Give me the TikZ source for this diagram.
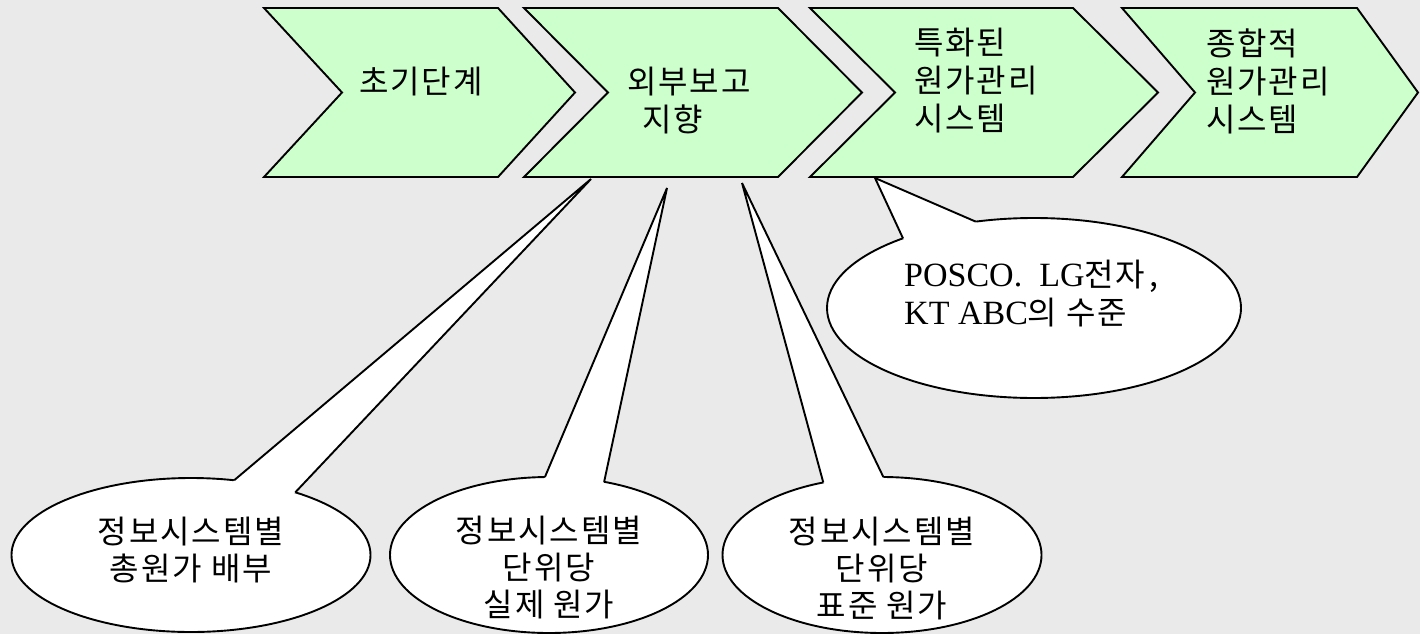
\documentclass[tikz,border=0pt]{standalone}
\usepackage{fontspec}
\setmainfont{Liberation Serif}
\newfontfamily\kr[LetterSpace=6]{Noto Sans CJK KR}
\usetikzlibrary{shapes.geometric,calc}
\definecolor{bg}{RGB}{234,234,234}
\definecolor{chev}{RGB}{204,255,204}
\tikzset{
  chevron/.style={draw=black, fill=chev, line width=1.9pt, line join=miter},
  bubble/.style={ellipse, draw=black, fill=white, line width=1.9pt, inner sep=0pt, outer sep=0pt},
  tail/.style={draw=black, line width=1.9pt, line join=miter},
  chevtxt/.style={font=\kr\fontsize{32}{38}\selectfont, align=left, inner sep=0pt},
  bubtxt/.style={font=\kr\fontsize{32}{37}\selectfont, align=center, inner sep=0pt},
}
\newcommand{\krpart}[1]{{\kr\fontsize{32}{38}\selectfont #1}}
\begin{document}
\begin{tikzpicture}[x=1pt,y=-1pt]
\fill[bg] (0,0) rectangle (1420,634);
\useasboundingbox (0,0) rectangle (1420,634);
% chevrons
\draw[chevron] (264,8) -- (498,8) -- (575,92.5) -- (498,177) -- (264,177) -- (342,92.5) -- cycle;
\draw[chevron] (524,8) -- (778,8) -- (862,92.5) -- (778,177) -- (524,177) -- (608,92.5) -- cycle;
\draw[chevron] (810,8) -- (1073,8) -- (1158,92.5) -- (1073,177) -- (810,177) -- (895,92.5) -- cycle;
\draw[chevron] (1122,8) -- (1357,8) -- (1418,92.5) -- (1357,177) -- (1122,177) -- (1195,92.5) -- cycle;
\node[chevtxt] (t1) at (421,82) {초기단계};
\node[chevtxt, anchor=west] (t2) at (627,101) {외부보고\\\hspace*{15pt}지향};
\node[chevtxt, anchor=west] (t3) at (914,81) {특화된\\원가관리\\시스템};
\node[chevtxt, anchor=west] (t4) at (1206,81) {종합적\\원가관리\\시스템};
% tail tips
\coordinate (p1) at (591,179);
\coordinate (p2) at (667,188);
\coordinate (p3) at (742,183);
\coordinate (p4) at (875,178);
% bubbles
\node[bubble, minimum width=359pt, minimum height=154pt] (e1) at (191,555) {};
\node[bubble, minimum width=318pt, minimum height=156pt] (e2) at (549,555) {};
\node[bubble, minimum width=319pt, minimum height=156pt] (e3) at (882,555) {};
\node[bubble, minimum width=414pt, minimum height=180pt] (e4) at (1034,308) {};
% tails
\fill[white] (p1) -- (e1.60) -- ($(e1.60)!0.06!(e1.center)$) -- ($(e1.31)!0.06!(e1.center)$) -- (e1.31) -- cycle;
\draw[tail] (e1.60) -- (p1) -- (e1.31);
\fill[white] (p2) -- (e2.93) -- ($(e2.93)!0.06!(e2.center)$) -- ($(e2.53)!0.06!(e2.center)$) -- (e2.53) -- cycle;
\draw[tail] (e2.93) -- (p2) -- (e2.53);
\fill[white] (p3) -- (e3.129) -- ($(e3.129)!0.06!(e3.center)$) -- ($(e3.89)!0.06!(e3.center)$) -- (e3.89) -- cycle;
\draw[tail] (e3.129) -- (p3) -- (e3.89);
\fill[white] (p4) -- (e4.152) -- ($(e4.152)!0.06!(e4.center)$) -- ($(e4.124)!0.06!(e4.center)$) -- (e4.124) -- cycle;
\draw[tail] (e4.152) -- (p4) -- (e4.124);
% bubble texts
\node[bubtxt] (l1) at (191,550) {정보시스템별\\총원가 배부};
\node[bubtxt] (l2) at (549,568) {정보시스템별\\단위당\\실제 원가};
\node[bubtxt] (l3) at (882,568) {정보시스템별\\단위당\\표준 원가};
\node[anchor=west, align=left, inner sep=0pt, font=\fontsize{34}{38}\selectfont] (l4) at (904,294) {POSCO.\ \ LG\krpart{전자\kern4pt,}\\KT ABC\krpart{의 수준}};
\end{tikzpicture}
\end{document}
